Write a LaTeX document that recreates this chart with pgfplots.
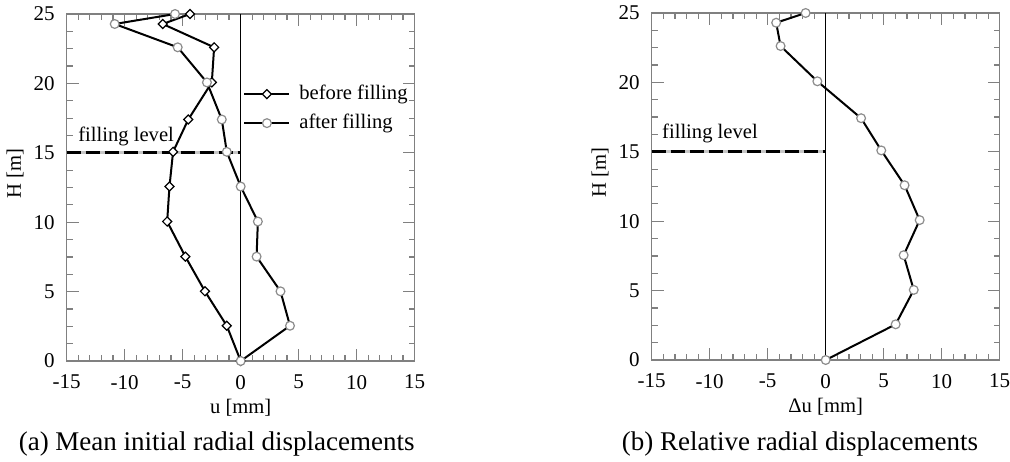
\documentclass[border=0pt]{standalone}
\usepackage{fontspec}
\setmainfont{Liberation Serif}
\usepackage{pgfplots}
\pgfplotsset{compat=1.18}

\definecolor{framegray}{gray}{0.5}
\definecolor{markgray}{gray}{0.55}

\pgfplotsset{
  disp/.style={
    scale only axis, width=174pt, height=173.5pt,
    xmin=-15,xmax=15,ymin=0,ymax=25,
    xtick={-15,-10,...,15}, ytick={0,5,...,25},
    minor x tick num=4, minor y tick num=3,
    tick align=inside,
    major tick length=6pt, minor tick length=3pt,
    axis line style={framegray, line width=0.6pt},
    every tick/.style={framegray, line width=0.6pt},
    /pgf/number format/assume math mode=true,
    tick label style={font=\fontsize{10.5}{12}\selectfont},
    xticklabel style={yshift=-3.5pt},
    yticklabel style={xshift=-2.5pt},
    label style={font=\fontsize{10.3}{12}\selectfont},
    xlabel style={at={(axis description cs:0.5,-0.135)}, anchor=center},
    ylabel style={at={(axis description cs:-0.1486,0.54)}, anchor=center},
    clip=false,
  },
  before/.style={black, line width=1pt, mark=square*, mark size=1.6pt,
    mark options={rotate=45, fill=white, draw=black, line width=0.6pt, solid}},
  after/.style={black, line width=1pt, mark=*, mark size=2.2pt,
    mark options={fill=white, draw=markgray, line width=0.6pt, solid}},
}

\begin{document}
\begin{tikzpicture}
\path[use as bounding box] (0,0) rectangle (505pt,230.5pt);

\begin{axis}[disp, at={(33.35pt,50pt)}, anchor=south west,
  xlabel={u [mm]}, ylabel={H [m]},
  legend style={at={(axis cs:0.2,20.3)}, anchor=north west, draw=none, fill=none,
    inner sep=0pt, font=\fontsize{10.3}{12}\selectfont,
    nodes={text height=7pt, text depth=2pt, inner ysep=2.75pt, inner xsep=4.5pt}},
  legend cell align=left,
  legend image code/.code={\draw[mark repeat=2,mark phase=2,#1] plot coordinates {(0pt,0pt)(11.25pt,0pt)(22.5pt,0pt)};},
]
\addplot[gray!45, line width=1.5pt, forget plot] coordinates {(-15,15) (0,15)};
\addplot[black, line width=1.5pt, dash pattern=on 7pt off 2.5pt, forget plot] coordinates {(-15,15) (0,15)};
\addplot[black, line width=0.5pt, forget plot] coordinates {(0,0) (0,25)};
\addplot[before] coordinates {
(0,0) (-1.20,2.54) (-3.08,5.02) (-4.77,7.52) (-6.34,10.05) (-6.14,12.57)
(-5.83,15.07) (-4.52,17.40) (-2.49,20.07) (-2.29,22.60) (-6.72,24.28) (-4.37,25)
};
\addlegendentry{before filling}
\addplot[after] coordinates {
(0,0) (4.25,2.54) (3.43,5.02) (1.37,7.52) (1.48,10.05) (0,12.57)
(-1.20,15.07) (-1.63,17.40) (-2.91,20.07) (-5.43,22.60) (-10.86,24.28) (-5.66,25)
};
\addlegendentry{after filling}
\node[anchor=west, inner sep=0pt, font=\fontsize{10.3}{12}\selectfont] at (axis cs:-14.03,16.2) {filling level};
\end{axis}

\begin{axis}[disp, at={(325.85pt,50.5pt)}, anchor=south west,
  xlabel={Δu [mm]}, ylabel={H [m]},
]
\addplot[gray!45, line width=1.5pt, forget plot] coordinates {(-15,15) (0,15)};
\addplot[black, line width=1.5pt, dash pattern=on 7pt off 2.5pt, forget plot] coordinates {(-15,15) (0,15)};
\addplot[black, line width=0.5pt, forget plot] coordinates {(0,0) (0,25)};
\addplot[after] coordinates {
(0,0) (6.03,2.57) (7.59,5.05) (6.72,7.55) (8.10,10.08) (6.80,12.59)
(4.79,15.10) (3.05,17.42) (-0.72,20.08) (-3.89,22.62) (-4.27,24.30) (-1.73,25)
};
\node[anchor=west, inner sep=0pt, font=\fontsize{10.3}{12}\selectfont] at (axis cs:-14.13,16.3) {filling level};
\end{axis}

\node[font=\fontsize{13.5}{15}\selectfont] at (108.35pt,8.5pt) {(a) Mean initial radial displacements};
\node[font=\fontsize{13.5}{15}\selectfont] at (400pt,8.5pt) {(b) Relative radial displacements};
\end{tikzpicture}
\end{document}
